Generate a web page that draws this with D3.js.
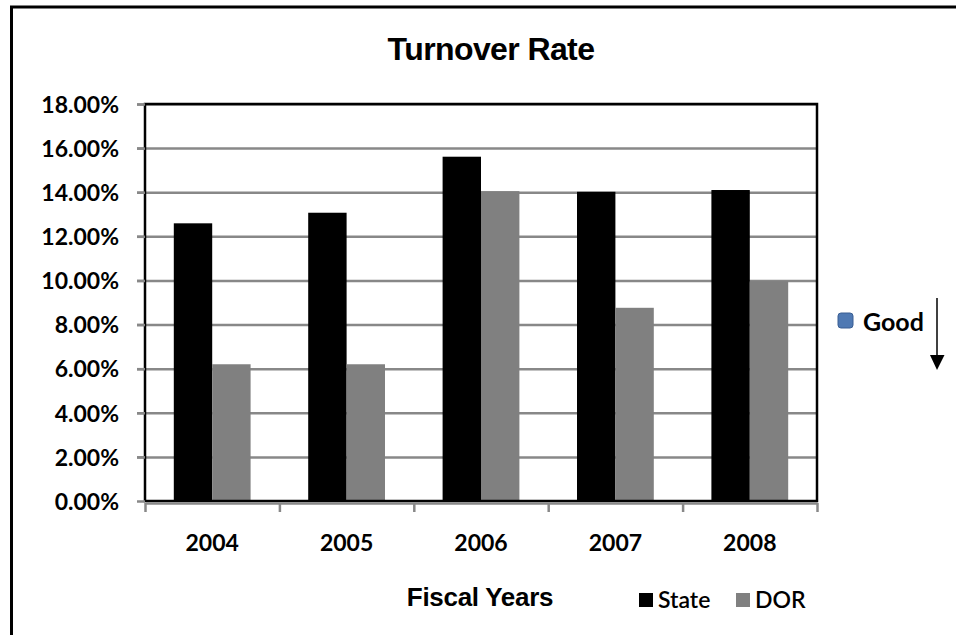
<!DOCTYPE html>
<html>
<head>
  <title>Turnover Rate</title>
  <script src="https://cdn.jsdelivr.net/npm/d3@7"></script>
  <style>
    body { margin: 0; background: #fff; }
  </style>
</head>
<body>
  <div id="myChart"></div>
  <script>
    // Data
    const years = ["2004", "2005", "2006", "2007", "2008"];
    const stateRate = [0.1259, 0.1307, 0.1561, 0.1402, 0.1410];
    const dorRate = [0.0620, 0.0620, 0.1405, 0.0876, 0.0997];
    const seriesNames = ["State", "DOR"];
    const seriesColors = ["#000000", "#808080"];
    const yTicks = [0, 0.02, 0.04, 0.06, 0.08, 0.10, 0.12, 0.14, 0.16, 0.18];

    const width = 956;
    const height = 635;
    const plot = { left: 145, right: 817, top: 104, bottom: 501 };

    const svg = d3.select("#myChart").append("svg")
        .attr("width", width)
        .attr("height", height);

    // outer frame (left and top edges visible)
    svg.append("path")
        .attr("d", `M11.5,${height} V7 H${width}`)
        .attr("fill", "none")
        .attr("stroke", "#000")
        .attr("stroke-width", 3);

    // Scales
    const x = d3.scaleBand()
        .domain(years)
        .range([plot.left, plot.right])
        .paddingInner(0.4286)
        .paddingOuter(0.2143);

    const xSub = d3.scaleBand()
        .domain(seriesNames)
        .range([0, x.bandwidth()]);

    const y = d3.scaleLinear()
        .domain([0, 0.18])
        .range([plot.bottom, plot.top]);

    // gridlines
    svg.append("g")
        .attr("transform", `translate(${plot.left - 8},0)`)
        .call(d3.axisRight(y).tickValues(yTicks.slice(1)).tickSize(plot.right - plot.left + 8).tickFormat(""))
        .call(g => g.select(".domain").remove())
        .selectAll("line")
        .attr("stroke", "#888")
        .attr("stroke-width", 2.5);

    // bars
    const rows = years.map((yr, i) => ({ year: yr, values: [stateRate[i], dorRate[i]] }));

    svg.append("g").selectAll("g")
      .data(rows)
      .enter().append("g")
        .attr("transform", d => `translate(${x(d.year)},0)`)
      .selectAll("rect")
      .data(d => d.values.map((v, j) => ({ name: seriesNames[j], value: v, color: seriesColors[j] })))
      .enter().append("rect")
        .attr("x", d => xSub(d.name))
        .attr("y", d => y(d.value))
        .attr("width", xSub.bandwidth())
        .attr("height", d => y(0) - y(d.value))
        .attr("fill", d => d.color);

    // plot border
    svg.append("rect")
        .attr("x", plot.left)
        .attr("y", plot.top)
        .attr("width", plot.right - plot.left)
        .attr("height", plot.bottom - plot.top)
        .attr("fill", "none")
        .attr("stroke", "#000")
        .attr("stroke-width", 2.5);

    // y axis
    const yAxis = svg.append("g")
        .attr("transform", `translate(${plot.left},0)`)
        .call(d3.axisLeft(y).tickValues(yTicks).tickSize(8).tickPadding(18)
          .tickFormat(d => (d * 100).toFixed(2) + "%"));
    yAxis.select(".domain").remove();
    yAxis.selectAll("line").attr("stroke", "#888").attr("stroke-width", 2.5);
    yAxis.selectAll("text")
        .attr("font-family", "Lato, 'Open Sans', sans-serif")
        .attr("font-weight", "bold")
        .attr("font-size", 23)
        .attr("fill", "#000")
        .attr("dy", "0.36em");

    // x axis: tick marks at category boundaries
    const xEdges = d3.scaleLinear().domain([0, years.length]).range([plot.left, plot.right]);
    const xTickAxis = svg.append("g")
        .attr("transform", `translate(0,${plot.bottom + 2})`)
        .call(d3.axisBottom(xEdges).ticks(years.length).tickSize(9).tickSizeOuter(0).tickFormat(""));
    xTickAxis.select(".domain").attr("stroke", "#888").attr("stroke-width", 2.5);
    xTickAxis.selectAll("line").attr("stroke", "#888").attr("stroke-width", 2.5);

    // x axis labels
    const xAxis = svg.append("g")
        .attr("transform", `translate(0,${plot.bottom})`)
        .call(d3.axisBottom(x).tickSize(0).tickPadding(34));
    xAxis.select(".domain").remove();
    xAxis.selectAll("text")
        .attr("font-family", "Lato, 'Open Sans', sans-serif")
        .attr("font-weight", "bold")
        .attr("font-size", 23)
        .attr("fill", "#000");

    // title
    svg.append("text")
        .attr("x", 491)
        .attr("y", 60)
        .attr("text-anchor", "middle")
        .attr("font-family", "'Liberation Sans', Arial, sans-serif")
        .attr("font-weight", "bold")
        .attr("font-size", 32)
        .attr("letter-spacing", -0.6)
        .text("Turnover Rate");

    // x axis title
    svg.append("text")
        .attr("x", 480)
        .attr("y", 606)
        .attr("text-anchor", "middle")
        .attr("font-family", "'Liberation Sans', Arial, sans-serif")
        .attr("font-weight", "bold")
        .attr("font-size", 26)
        .attr("letter-spacing", -0.3)
        .text("Fiscal Years");

    // series legend
    const legend = svg.append("g").attr("transform", "translate(639,593)");
    const legendItems = legend.selectAll("g")
      .data(seriesNames)
      .enter().append("g")
        .attr("transform", (d, i) => `translate(${i * 97},0)`);
    legendItems.append("rect")
        .attr("width", 14)
        .attr("height", 14)
        .attr("fill", (d, i) => seriesColors[i]);
    legendItems.append("text")
        .attr("x", 19)
        .attr("y", 15)
        .attr("font-family", "Lato, 'Open Sans', sans-serif")
        .attr("font-weight", 600)
        .attr("font-size", 23)
        .attr("fill", "#000")
        .text(d => d);

    // "Good" marker with downward arrow
    svg.append("rect")
        .attr("x", 838)
        .attr("y", 313)
        .attr("width", 15)
        .attr("height", 15)
        .attr("rx", 3)
        .attr("fill", "#4f79b3")
        .attr("stroke", "#3a5f93")
        .attr("stroke-width", 1);
    svg.append("text")
        .attr("x", 863)
        .attr("y", 331)
        .attr("font-family", "Lato, 'Open Sans', sans-serif")
        .attr("font-weight", "bold")
        .attr("font-size", 25)
        .attr("fill", "#000")
        .text("Good");
    svg.append("line")
        .attr("x1", 937).attr("x2", 937)
        .attr("y1", 298).attr("y2", 357)
        .attr("stroke", "#000")
        .attr("stroke-width", 1.5);
    svg.append("path")
        .attr("d", "M930,355 L944.5,355 L937,370 Z")
        .attr("fill", "#000");
  </script>
</body>
</html>
